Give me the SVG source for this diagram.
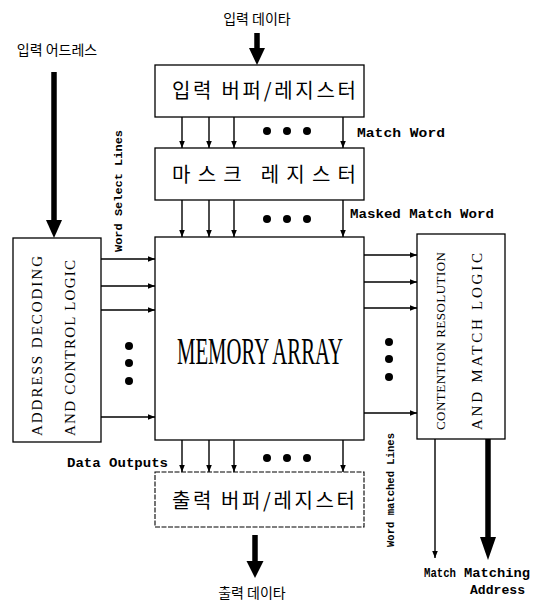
<svg xmlns="http://www.w3.org/2000/svg" width="544" height="607" viewBox="0 0 544 607">
<defs>
<marker id="ah" markerUnits="userSpaceOnUse" markerWidth="7" markerHeight="7" viewBox="0 0 10 10" refX="10" refY="5" orient="auto">
<path d="M0,1 L10,5 L0,9 Z" fill="#000"/>
</marker>
</defs>
<style>
.box{fill:#fff;stroke:#000;stroke-width:1.3}
.dash{stroke-dasharray:5 1.5;stroke-width:1.1}
.ln{stroke:#000;stroke-width:1.4;fill:none;marker-end:url(#ah)}
.thick{stroke:#000;stroke-width:5.5;fill:none}
.hd{fill:#000}
.ko{font-family:"Noto Sans CJK KR","Noto Sans",sans-serif;fill:#000}
.mono{font-family:"Liberation Mono","DejaVu Sans Mono",monospace;font-weight:bold;fill:#000}
.ser{font-family:"Liberation Serif","DejaVu Serif",serif;fill:#000}
.dot{fill:#000}
</style>
<rect width="544" height="607" fill="#fff"/>

<g id="label-input-data">
<text class="ko" x="257" y="24" font-size="14" text-anchor="middle">입력 데이타</text>
</g>
<g id="label-input-address">
<text class="ko" x="57" y="55" font-size="14" text-anchor="middle">입력 어드레스</text>
</g>

<g id="input-buffer">
<rect class="box" x="155" y="65" width="209" height="52"/>
<text class="ko" x="172" y="98" font-size="20" textLength="184" lengthAdjust="spacing">입력 버퍼/레지스터</text>
</g>

<g id="mask-register">
<rect class="box" x="155" y="148" width="209" height="52"/>
<text class="ko" x="172" y="182" font-size="20" textLength="184" lengthAdjust="spacing">마스크 레지스터</text>
</g>

<g id="memory-array">
<rect class="box" x="155" y="237" width="209" height="203"/>
<text class="ser" x="177" y="364" font-size="38" textLength="166" lengthAdjust="spacingAndGlyphs">MEMORY ARRAY</text>
</g>

<g id="address-decoding">
<rect class="box" x="13" y="238" width="88" height="204"/>
<text class="ser" font-size="15" transform="translate(42,436) rotate(-90)" textLength="180" lengthAdjust="spacing">ADDRESS DECODING</text>
<text class="ser" font-size="15" transform="translate(75,436) rotate(-90)" textLength="176" lengthAdjust="spacing">AND CONTROL LOGIC</text>
</g>

<g id="contention-resolution">
<rect class="box" x="417" y="234" width="88" height="205"/>
<text class="ser" font-size="13" transform="translate(445,430) rotate(-90)" textLength="178" lengthAdjust="spacing">CONTENTION RESOLUTION</text>
<text class="ser" font-size="15" transform="translate(482,430) rotate(-90)" textLength="177" lengthAdjust="spacing">AND MATCH LOGIC</text>
</g>

<g id="output-buffer">
<rect class="box dash" x="155" y="472" width="209" height="55"/>
<text class="ko" x="172" y="508" font-size="20" textLength="183" lengthAdjust="spacing">출력 버퍼/레지스터</text>
</g>

<g id="label-output-data">
<text class="ko" x="252" y="598" font-size="14" text-anchor="middle">출력 데이타</text>
</g>

<g id="connectors">
<line class="thick" x1="257" y1="33" x2="257" y2="50"/>
<polygon class="hd" points="249,48 265,48 257,65"/>
<line class="thick" x1="54" y1="72" x2="54" y2="222"/>
<polygon class="hd" points="46,220 62,220 54,238"/>
<line class="ln" x1="182" y1="117" x2="182" y2="148"/>
<line class="ln" x1="209" y1="117" x2="209" y2="148"/>
<line class="ln" x1="234" y1="117" x2="234" y2="148"/>
<line class="ln" x1="343" y1="117" x2="343" y2="148"/>
<line class="ln" x1="182" y1="200" x2="182" y2="237"/>
<line class="ln" x1="209" y1="200" x2="209" y2="237"/>
<line class="ln" x1="234" y1="200" x2="234" y2="237"/>
<line class="ln" x1="343" y1="200" x2="343" y2="237"/>
<line class="ln" x1="101" y1="259" x2="155" y2="259"/>
<line class="ln" x1="101" y1="286" x2="155" y2="286"/>
<line class="ln" x1="101" y1="310" x2="155" y2="310"/>
<line class="ln" x1="101" y1="417" x2="155" y2="417"/>
<line class="ln" x1="364" y1="255" x2="417" y2="255"/>
<line class="ln" x1="364" y1="282" x2="417" y2="282"/>
<line class="ln" x1="364" y1="308" x2="417" y2="308"/>
<line class="ln" x1="364" y1="413" x2="417" y2="413"/>
<line class="ln" x1="182" y1="440" x2="182" y2="472"/>
<line class="ln" x1="209" y1="440" x2="209" y2="472"/>
<line class="ln" x1="234" y1="440" x2="234" y2="472"/>
<line class="ln" x1="343" y1="440" x2="343" y2="472"/>
<line class="thick" x1="255" y1="535" x2="255" y2="563"/>
<polygon class="hd" points="246.5,561 263.5,561 255,578"/>
<line class="ln" x1="435" y1="439" x2="435" y2="558"/>
<line class="thick" x1="488" y1="439" x2="488" y2="540"/>
<polygon class="hd" points="480,537 496,537 488,560"/>
</g>

<g id="dots">
<circle class="dot" cx="267" cy="131" r="4"/>
<circle class="dot" cx="287" cy="131" r="4"/>
<circle class="dot" cx="307" cy="131" r="4"/>
<circle class="dot" cx="267" cy="219" r="4"/>
<circle class="dot" cx="287" cy="219" r="4"/>
<circle class="dot" cx="307" cy="219" r="4"/>
<circle class="dot" cx="267" cy="458" r="4"/>
<circle class="dot" cx="287" cy="458" r="4"/>
<circle class="dot" cx="307" cy="458" r="4"/>
<circle class="dot" cx="129" cy="346" r="4"/>
<circle class="dot" cx="129" cy="363" r="4"/>
<circle class="dot" cx="129" cy="381" r="4"/>
<circle class="dot" cx="389" cy="342" r="4"/>
<circle class="dot" cx="389" cy="359" r="4"/>
<circle class="dot" cx="389" cy="377" r="4"/>
</g>

<g id="labels">
<text class="mono" x="357" y="137" font-size="12" textLength="88" lengthAdjust="spacingAndGlyphs">Match Word</text>
<text class="mono" x="350" y="218" font-size="12" textLength="144" lengthAdjust="spacingAndGlyphs">Masked Match Word</text>
<text class="mono" x="67" y="467" font-size="12" textLength="101" lengthAdjust="spacingAndGlyphs">Data Outputs</text>
<text class="mono" font-size="11" transform="translate(122,252) rotate(-90)" textLength="122" lengthAdjust="spacingAndGlyphs">Word Select Lines</text>
<text class="mono" font-size="11" transform="translate(394,547) rotate(-90)" textLength="114" lengthAdjust="spacingAndGlyphs">Word matched Lines</text>
<text class="mono" x="424" y="577" font-size="12" textLength="32" lengthAdjust="spacingAndGlyphs">Match</text>
<text class="mono" x="464" y="577" font-size="12" textLength="66" lengthAdjust="spacingAndGlyphs">Matching</text>
<text class="mono" x="470" y="594" font-size="12" textLength="55" lengthAdjust="spacingAndGlyphs">Address</text>
</g>
</svg>
